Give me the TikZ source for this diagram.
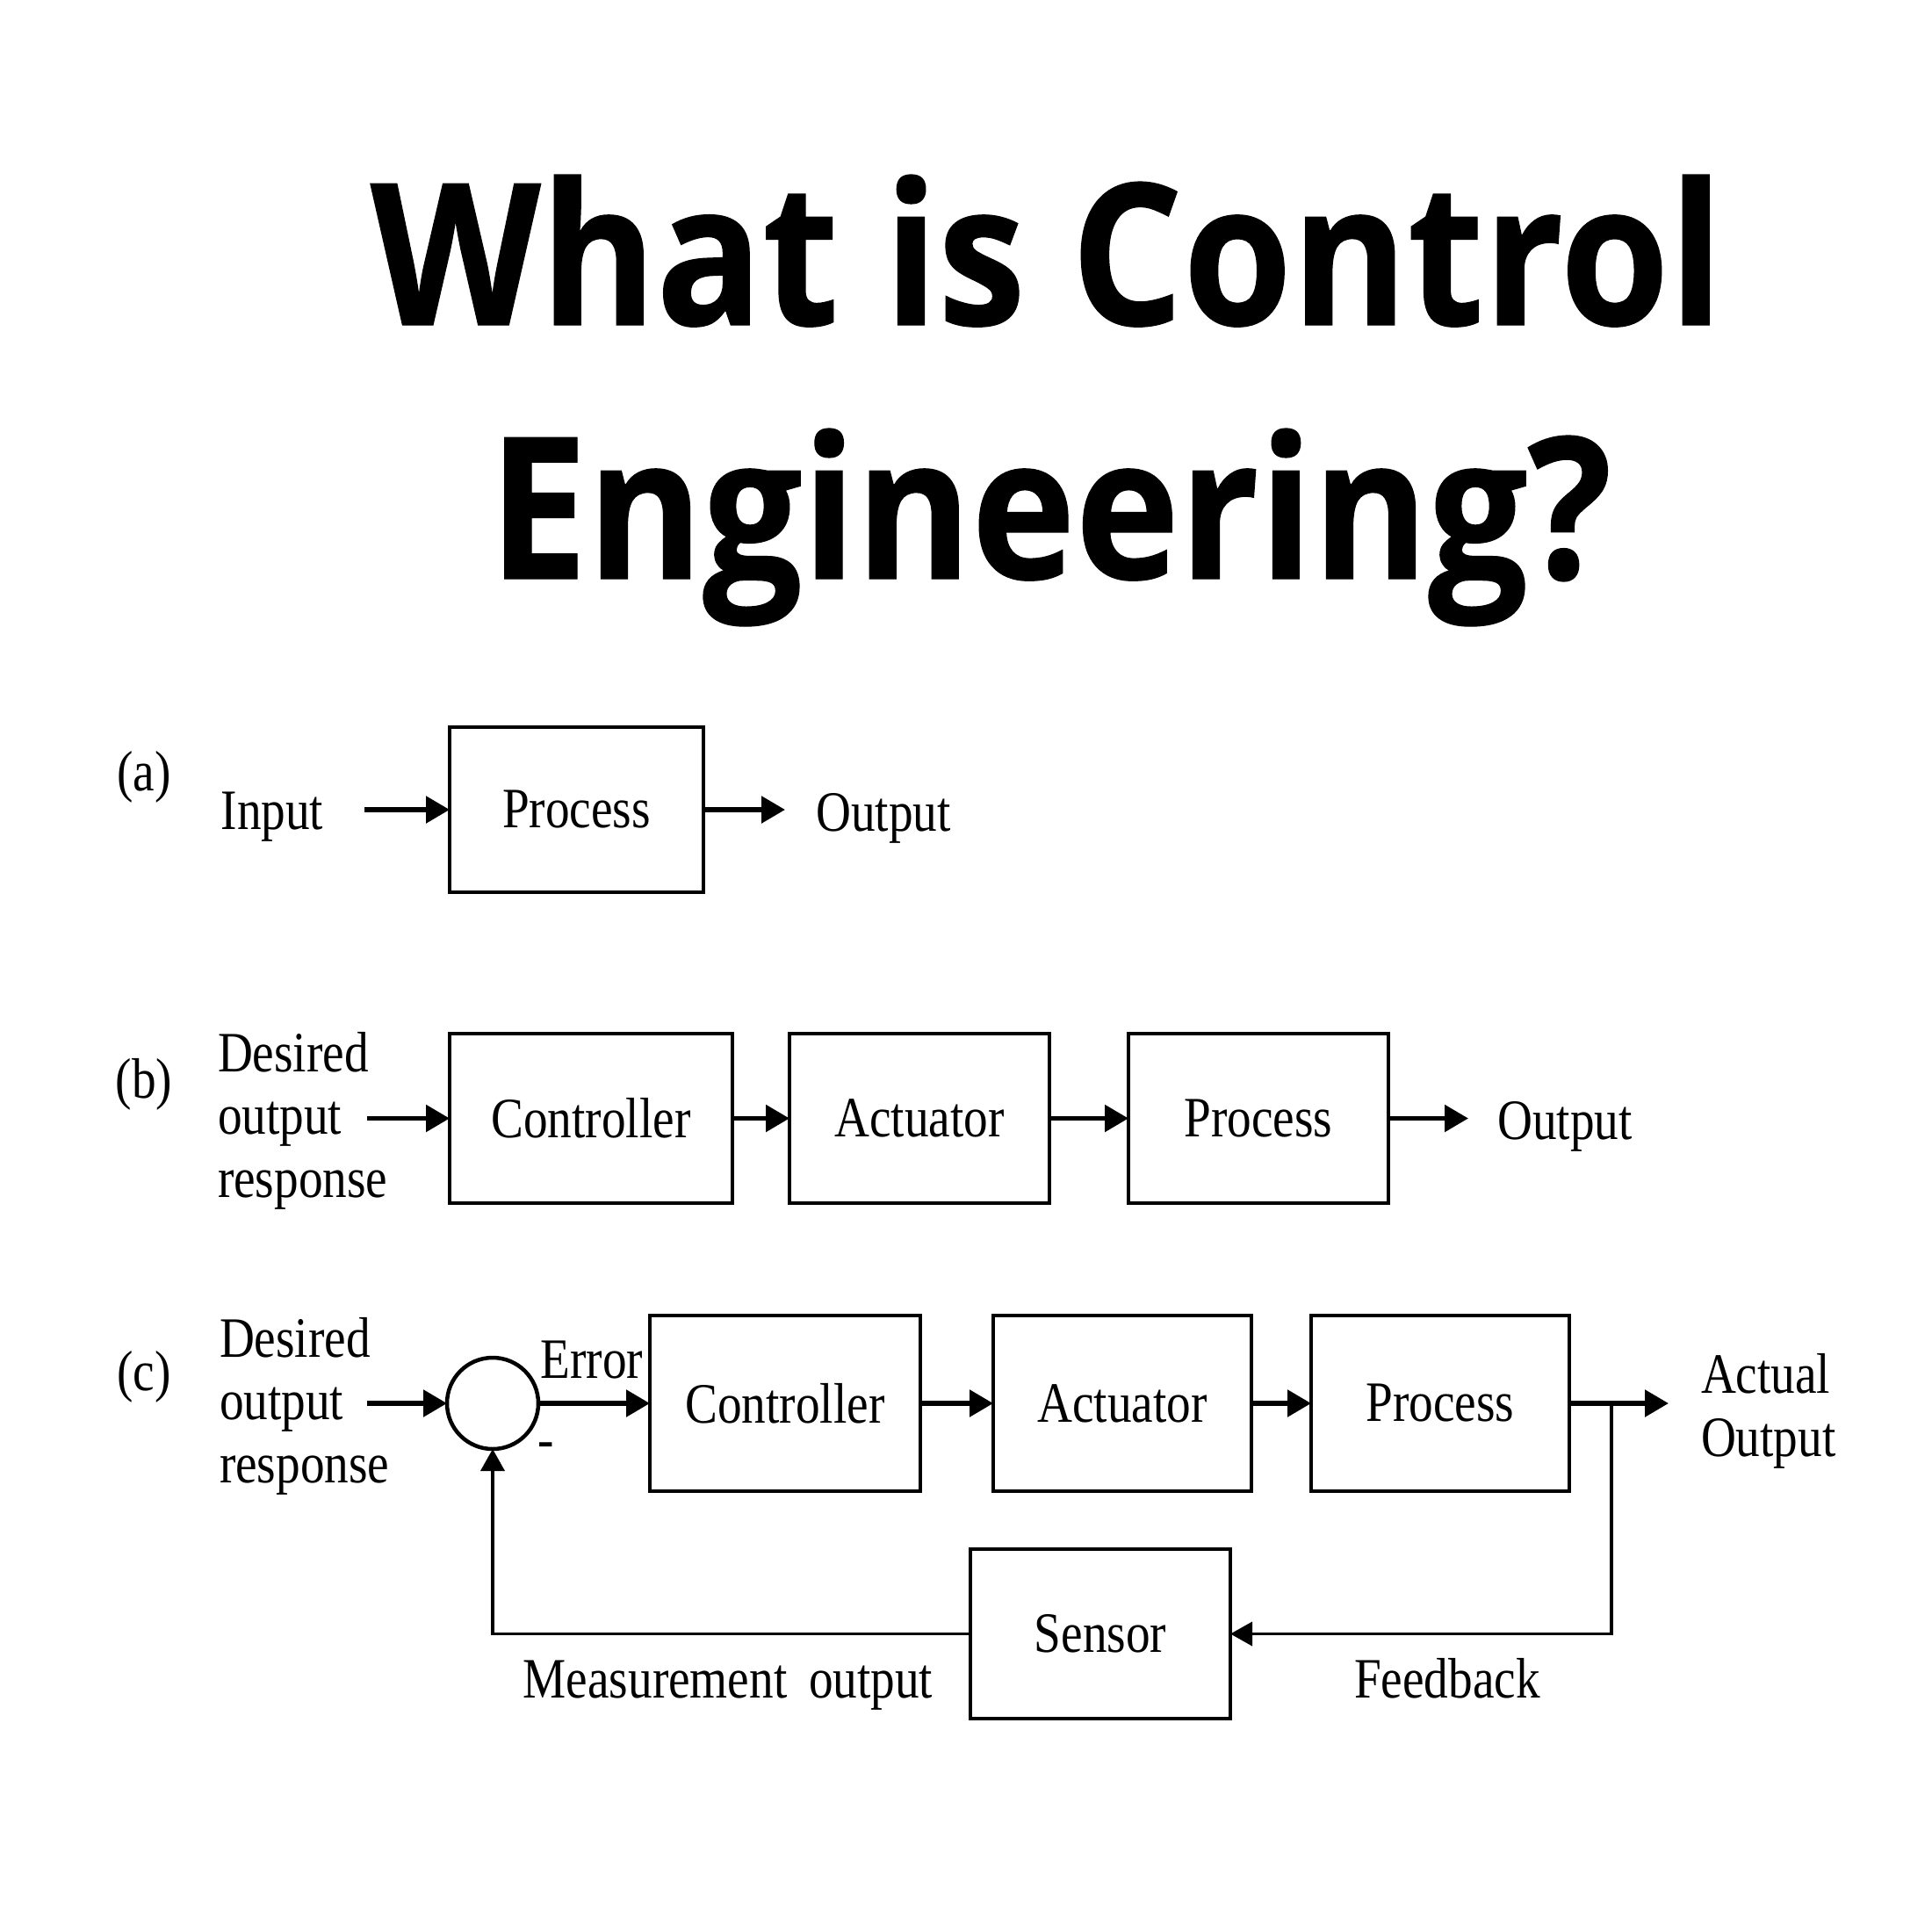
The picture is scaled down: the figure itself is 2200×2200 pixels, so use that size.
\documentclass[tikz,border=0pt]{standalone}
\usepackage{fontspec}
\usetikzlibrary{arrows.meta}
\newfontfamily\titlefont{Open Sans}[FakeStretch=0.89,FakeBold=0.6]
\newfontfamily\diagfont{Liberation Serif}[FakeStretch=0.85]
\newcommand\dgfont{\diagfont\fontsize{13}{14.3}\selectfont}

\begin{document}
\begin{tikzpicture}[x=0.2pt,y=0.2pt,yscale=-1,
    blk/.style={draw, line width=0.9pt, inner sep=0pt, outer sep=0pt, font=\dgfont},
    txt/.style={inner sep=0pt, outer sep=0pt, font=\dgfont},
    arr/.style={line width=1.1pt, -{Triangle[length=5.4pt,width=6pt]}},
    farr/.style={line width=0.75pt, -{Triangle[length=5pt,width=5.4pt]}}]
    \fill[white] (0,0) rectangle (2200,2200);
    \useasboundingbox (0,0) rectangle (2200,2200);
    % Title
    \node (title1) [anchor=base, inner sep=0pt, font=\titlefont\bfseries\fontsize{45}{54}\selectfont] at (1192,370) {What is Control};
    \node (title2) [anchor=base, inner sep=0pt, font=\titlefont\bfseries\fontsize{45}{54}\selectfont] at (1196,659) {Engineering?};
    % (a) open loop
    \node (labA) [txt, anchor=base] at (164,900) {(a)};
    \node (inA) [txt, anchor=base] at (310,944) {Input};
    \node (procA) [blk, minimum width=57.8pt, minimum height=37.6pt] at (656.5,922) {Process};
    \node (outA) [txt, anchor=base] at (1006,946) {Output};
    \coordinate (inA0) at (415,922);
    \coordinate (outA0) at (894,922);
    \draw [arr] (inA0) -- (procA.west);
    \draw [arr] (procA.east) -- (outA0);
    % (b) chain
    \node (labB) [txt, anchor=base] at (164,1250) {(b)};
    \node (desB) [txt, anchor=west, align=left] at (248,1276) {Desired\\output\\response};
    \node (ctrlB) [blk, minimum width=64.4pt, minimum height=38.6pt] at (673,1273.5) {Controller};
    \node (actB) [blk, minimum width=59.2pt, minimum height=38.6pt] at (1047,1273.5) {Actuator};
    \node (procB) [blk, minimum width=59.2pt, minimum height=38.6pt] at (1433,1273.5) {Process};
    \node (outB) [txt, anchor=base] at (1782,1297) {Output};
    \coordinate (inB0) at (418,1273.5);
    \coordinate (outB0) at (1672,1273.5);
    \draw [arr] (inB0) -- (ctrlB.west);
    \draw [arr] (ctrlB) -- (actB);
    \draw [arr] (actB) -- (procB);
    \draw [arr] (procB.east) -- (outB0);
    % (c) closed loop
    \node (labC) [txt, anchor=base] at (164,1583) {(c)};
    \node (desC) [txt, anchor=west, align=left] at (250,1601) {Desired\\output\\response};
    \node (sum) [draw, circle, line width=0.9pt, minimum size=20.8pt, inner sep=0pt, outer sep=0pt] at (561,1598) {};
    \node (err) [txt, anchor=base] at (674,1569) {Error};
    \node (minus) [txt] at (622,1652) {-};
    \node (ctrlC) [blk, minimum width=61.6pt, minimum height=40pt] at (894,1598) {Controller};
    \node (actC) [blk, minimum width=58.8pt, minimum height=40pt] at (1278,1598) {Actuator};
    \node (procC) [blk, minimum width=58.8pt, minimum height=40pt] at (1640,1598) {Process};
    \node (outC) [txt, anchor=west, align=left] at (1937,1607) {Actual\\Output};
    \node (sensor) [blk, minimum width=59.2pt, minimum height=38.6pt] at (1253,1860.5) {Sensor};
    \node (meas) [txt, anchor=base] at (829,1933) {Measurement\, output};
    \node (fback) [txt, anchor=base] at (1648,1933) {Feedback};
    \coordinate (inC0) at (418,1598);
    \coordinate (outC0) at (1900,1598);
    \coordinate (fb) at (1835,1598);
    \draw [arr] (inC0) -- (sum.west);
    \draw [arr] (sum.east) -- (ctrlC.west);
    \draw [arr] (ctrlC) -- (actC);
    \draw [arr] (actC) -- (procC);
    \draw [arr] (procC.east) -- (outC0);
    \draw [farr] (fb) |- (sensor.east);
    \draw [farr] (sensor.west) -| (sum.south);
\end{tikzpicture}
\end{document}
